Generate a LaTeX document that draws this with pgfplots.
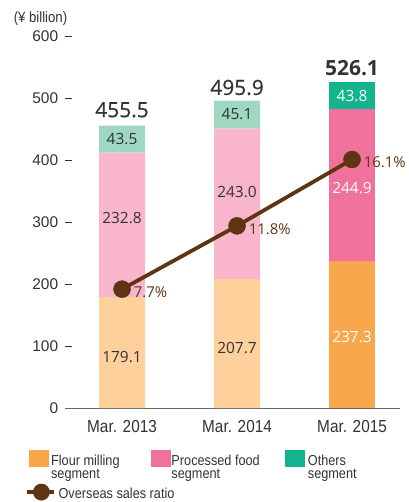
\documentclass[border=0pt]{standalone}
\usepackage{pgfplots}
\pgfplotsset{compat=1.18}
\usepackage{fontspec}
\setmainfont{Liberation Sans}
\newfontfamily\valfont{Open Sans}
\newfontfamily\totfont[FakeBold=0.6]{Open Sans}
\newfontfamily\condfont[FakeStretch=0.88]{Liberation Sans}
\definecolor{flourL}{HTML}{FDD09C}
\definecolor{procL}{HTML}{F8B5CB}
\definecolor{othL}{HTML}{9FD7C1}
\definecolor{flourD}{HTML}{F9A74D}
\definecolor{procD}{HTML}{F0719C}
\definecolor{othD}{HTML}{13B48D}
\definecolor{brn}{HTML}{5E3513}
\definecolor{txt}{HTML}{333333}
\tikzset{val/.style={font=\valfont\fontsize{15.5}{16}\selectfont, text=txt, inner sep=0pt},
  tot/.style={font=\totfont\fontsize{21}{22}\selectfont, text=txt, inner sep=0pt}}
\pgfplotsset{base/.style={at={(0,0)}, anchor=south west,
  scale only axis, width=335bp, height=372bp, xmin=-0.496, xmax=2.417, clip=false}}
\begin{document}
\begin{tikzpicture}
\path[use as bounding box] (-65bp,-94bp) rectangle (344bp,408bp);
\begin{axis}[
  base,
  ybar stacked, bar width=46bp,
  ymin=0, ymax=600,
  xtick={0,1,2}, xticklabels={Mar. 2013, Mar. 2014, Mar. 2015},
  ytick={0,100,200,300,400,500,600},
  yticklabels={0,100,200,300,400,500,600},
  axis x line*=bottom, axis y line*=left,
  x axis line style={draw=gray!80!black, line width=0.9bp},
  y axis line style={draw=none},
  xtick style={draw=none},
  ytick style={draw=txt, line width=0.8bp},
  tick align=inside, major tick length=7bp,
  yticklabel style={font=\fontsize{15.5}{16}\selectfont, text=txt, inner sep=0pt, anchor=east, xshift=-6.7bp},
  xticklabel style={font=\condfont\fontsize{17.5}{18}\selectfont, text=txt, inner sep=0pt, anchor=north, yshift=-12bp},
]
\addplot[fill=flourL, draw=none] coordinates {(0,179.1) (1,207.7) (2,0)};
\addplot[fill=flourD, draw=none] coordinates {(0,0) (1,0) (2,237.3)};
\addplot[fill=procL, draw=none] coordinates {(0,232.8) (1,243.0) (2,0)};
\addplot[fill=procD, draw=none] coordinates {(0,0) (1,0) (2,244.9)};
\addplot[fill=othL, draw=none] coordinates {(0,43.5) (1,45.1) (2,0)};
\addplot[fill=othD, draw=none] coordinates {(0,0) (1,0) (2,43.8)};
\end{axis}
\begin{axis}[base, ymin=0, ymax=600, hide axis]
\node[val] at (axis cs:0,82) {179.1};
\node[val] at (axis cs:0,306) {232.8};
\node[val] at (axis cs:0,434) {43.5};
\node[val] at (axis cs:1,97) {207.7};
\node[val] at (axis cs:1,348) {243.0};
\node[val] at (axis cs:1,474) {45.1};
\node[val, text=white] at (axis cs:2,115) {237.3};
\node[val, text=white] at (axis cs:2,355) {244.9};
\node[val, text=white] at (axis cs:2,504) {43.8};
\node[tot] at (axis cs:0,481) {455.5};
\node[tot] at (axis cs:1,517) {495.9};
\node[font=\valfont\bfseries\fontsize{21}{22}\selectfont, text=txt, inner sep=0pt] at (axis cs:2,548) {526.1};
\node[font=\condfont\fontsize{15}{16}\selectfont, text=txt, inner sep=0pt, xshift=-24.5bp, yshift=17bp] at (rel axis cs:0,1) {(¥ billion)};
\end{axis}
\begin{axis}[
  base, ymin=0, ymax=24.1,
  hide axis,
  legend columns=3,
  legend style={at={(rel axis cs:0,0)}, anchor=north west, xshift=-38bp, yshift=-42bp,
    draw=none, fill=none, inner sep=0pt, outer sep=0pt, column sep=0pt, row sep=17bp,
    nodes={inner sep=0pt, anchor=base west}, font=\condfont\fontsize{14.5}{13.5}\selectfont, text=txt},
]
\addlegendimage{legend image code/.code={\fill[flourD] (0bp,-1bp) rectangle (19bp,15bp); \path (22bp,0bp);}}
\addlegendentry{\parbox[t]{100bp}{Flour milling\\segment}}
\addlegendimage{legend image code/.code={\fill[procD] (0bp,-1bp) rectangle (19bp,15bp); \path (20bp,0bp);}}
\addlegendentry{\parbox[t]{114bp}{Processed food\\segment}}
\addlegendimage{legend image code/.code={\fill[othD] (0bp,-1bp) rectangle (19bp,15bp); \path (22bp,0bp);}}
\addlegendentry{\parbox[t]{70bp}{Others\\segment}}
\addplot[brn, line width=3.8bp, mark=*, mark size=8.5bp, mark options={line width=0.5bp, fill=brn},
  nodes near coords, point meta=explicit symbolic,
  every node near coord/.style={font=\valfont\fontsize{15}{16}\selectfont, text=brn, anchor=west, inner sep=0pt, xshift=11.5bp, yshift=-3bp},
  legend image code/.code={\draw[overlay, brn, line width=3.5bp] (-2bp,6.5bp) -- (25bp,6.5bp); \fill[overlay, brn] (12.5bp,6.5bp) circle (6.5bp); \path (0bp,0bp) (19bp,13bp);}]
  table[meta=label] {
x y label
0 7.7 7.7\%
1 11.8 11.8\%
2 16.1 16.1\%
};
\addlegendentry{\makebox[0pt][l]{\hspace*{7bp}Overseas sales ratio}}
\end{axis}
\end{tikzpicture}
\end{document}
